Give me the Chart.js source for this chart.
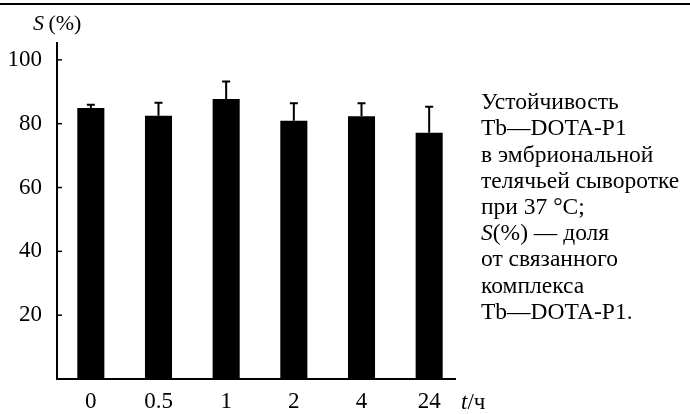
<!DOCTYPE html>
<html>
<head>
<meta charset="utf-8">
<script src="https://cdn.jsdelivr.net/npm/chart.js@4.4.1/dist/chart.umd.min.js"></script>
<style>
  html, body { margin: 0; padding: 0; background: #fff; }
  #wrap { position: relative; width: 690px; height: 414px; }
</style>
</head>
<body>
<div id="wrap"><canvas id="chart" width="690" height="414"></canvas></div>
<script>
(function() {
  'use strict';

  var hours = ['0', '0.5', '1', '2', '4', '24'];
  var stability = [84.9, 82.5, 87.7, 80.9, 82.3, 77.2];
  var errorUp = [1.0, 4.1, 5.5, 5.5, 4.1, 8.1];
  var yTicks = [20, 40, 60, 80, 100];
  var noteLines = [
    [['Устойчивость', false]],
    [['Tb—DOTA-P1', false]],
    [['в эмбриональной', false]],
    [['телячьей сыворотке', false]],
    [['при 37 °C;', false]],
    [['S', true], ['(%) — доля', false]],
    [['от связанного', false]],
    [['комплекса', false]],
    [['Tb—DOTA-P1.', false]]
  ];

  var serif = '"Liberation Serif", "DejaVu Serif", serif';
  var ink = '#000';

  function drawRuns(ctx, runs, x, y, size) {
    var cx = x;
    for (var i = 0; i < runs.length; i++) {
      ctx.font = (runs[i][1] ? 'italic ' : '') + size + 'px ' + serif;
      ctx.fillText(runs[i][0], cx, y);
      cx += ctx.measureText(runs[i][0]).width;
    }
  }

  var decorations = {
    id: 'decorations',
    afterDatasetsDraw: function(chart) {
      var ctx = chart.ctx;
      var ys = chart.scales.y;
      var meta = chart.getDatasetMeta(0);
      var area = chart.chartArea;
      ctx.save();
      ctx.strokeStyle = ink;
      ctx.fillStyle = ink;

      // error bars, upper half only
      ctx.lineWidth = 2;
      for (var i = 0; i < stability.length; i++) {
        var bx = meta.data[i].x;
        var yTop = ys.getPixelForValue(stability[i]);
        var yErr = ys.getPixelForValue(stability[i] + errorUp[i]);
        ctx.beginPath();
        ctx.moveTo(bx, yTop);
        ctx.lineTo(bx, yErr);
        ctx.moveTo(bx - 4, yErr);
        ctx.lineTo(bx + 4, yErr);
        ctx.stroke();
      }

      // axes
      ctx.lineWidth = 2;
      ctx.beginPath();
      ctx.moveTo(area.left, area.top);
      ctx.lineTo(area.left, area.bottom);
      ctx.lineTo(456, area.bottom);
      ctx.stroke();

      // inward ticks
      ctx.lineWidth = 1.5;
      for (var t = 0; t < yTicks.length; t++) {
        var ty = ys.getPixelForValue(yTicks[t]);
        ctx.beginPath();
        ctx.moveTo(area.left, ty);
        ctx.lineTo(area.left + 5, ty);
        ctx.stroke();
      }

      // rule along the top
      ctx.lineWidth = 2;
      ctx.beginPath();
      ctx.moveTo(0, 4);
      ctx.lineTo(690, 4);
      ctx.stroke();

      ctx.textBaseline = 'middle';
      ctx.textAlign = 'left';
      drawRuns(ctx, [['S', true], ['\u2009(%)', false]], 33, 24, 22);
      drawRuns(ctx, [['t', true], ['/ч', false]], 461, 403, 23);

      for (var n = 0; n < noteLines.length; n++) {
        drawRuns(ctx, noteLines[n], 481, 103 + n * 26.2, 23.5);
      }
      ctx.restore();
    }
  };

  new Chart(document.getElementById('chart'), {
    type: 'bar',
    data: {
      labels: hours,
      datasets: [{
        data: stability,
        backgroundColor: ink,
        borderWidth: 0,
        barPercentage: 0.4,
        categoryPercentage: 1
      }]
    },
    options: {
      responsive: false,
      animation: false,
      devicePixelRatio: 1,
      layout: { padding: { left: 0, right: 227, top: 42, bottom: 0 } },
      plugins: { legend: { display: false }, tooltip: { enabled: false } },
      scales: {
        x: {
          grid: { display: false, drawTicks: false },
          border: { display: false },
          ticks: { color: ink, padding: 9, font: { family: serif, size: 23 } },
          afterFit: function(scale) { scale.height = 35; }
        },
        y: {
          min: 0,
          max: 105.6,
          afterBuildTicks: function(scale) {
            scale.ticks = yTicks.map(function(v) { return { value: v }; });
          },
          grid: { display: false, drawTicks: false },
          border: { display: false },
          ticks: { color: ink, padding: 15, font: { family: serif, size: 23 } },
          afterFit: function(scale) { scale.width = 57; }
        }
      }
    },
    plugins: [decorations]
  });
})();
</script>
</body>
</html>
